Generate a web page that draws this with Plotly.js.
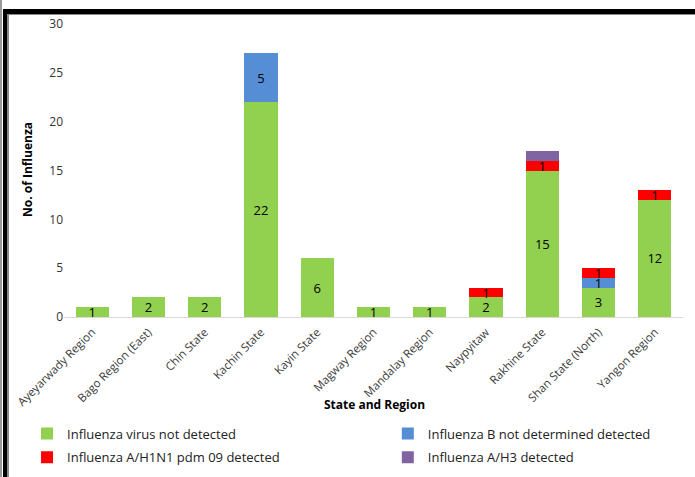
<!DOCTYPE html>
<html>
<head>
<meta charset="utf-8">
<script src="https://cdn.plot.ly/plotly-3.0.1.min.js"></script>
<style>
  html, body { margin: 0; padding: 0; background: #fff; }
  #wrap { position: relative; width: 695px; height: 477px; overflow: hidden; }
  #chart { position: absolute; left: 0; top: 0; width: 695px; height: 477px; }
  .ln { position: absolute; pointer-events: none; }
</style>
</head>
<body>
<div id="wrap">
  <div id="chart"></div>
  <div class="ln" style="left:0;top:0;width:2px;height:477px;background:#9a9a9a;"></div>
  <div class="ln" style="left:3px;top:9px;width:4px;height:468px;background:#000;"></div>
  <div class="ln" style="left:7px;top:14px;width:2px;height:463px;background:#8a8a8a;"></div>
  <div class="ln" style="left:3px;top:9px;width:692px;height:5px;background:#000;"></div>
  <div class="ln" style="left:7px;top:14px;width:688px;height:1px;background:#8a8a8a;"></div>
</div>
<script>
const categories = ["Ayeyarwady Region", "Bago Region (East)", "Chin State", "Kachin State", "Kayin State", "Magway Region", "Mandalay Region", "Naypyitaw", "Rakhine State", "Shan State (North)", "Yangon Region"];
const notDetected = [1, 2, 2, 22, 6, 1, 1, 2, 15, 3, 12];
const fluB = [0, 0, 0, 5, 0, 0, 0, 0, 0, 1, 0];
const h1n1 = [0, 0, 0, 0, 0, 0, 0, 1, 1, 1, 1];
const h3 = [0, 0, 0, 0, 0, 0, 0, 0, 1, 0, 0];
const seriesNames = ["Influenza virus not detected", "Influenza B not determined detected", "Influenza A/H1N1 pdm 09 detected", "Influenza A/H3 detected"];
const colors = ["#92D050", "#558ED5", "#FF0000", "#8064A2"];
const showLabels = [true, true, true, false];
const legendColumn = ["legend", "legend2", "legend", "legend2"];
const xTitle = "State and Region";
const yTitle = "No. of Influenza";

const FONT = "Open Sans, Liberation Sans, sans-serif";
const series = [notDetected, fluB, h1n1, h3];
const traces = series.map((vals, i) => ({
  type: "bar",
  name: seriesNames[i],
  legend: legendColumn[i],
  legendgroup: "g" + i,
  x: categories,
  y: vals,
  marker: { color: colors[i] },
  text: vals.map(v => (showLabels[i] && v > 0) ? String(v) : ""),
  textposition: "inside",
  insidetextanchor: "middle",
  constraintext: "none",
  textangle: 0,
  textfont: { family: FONT, size: 13, color: "#000" },
  hoverinfo: "x+y+name"
}));

const legendCommon = {
  orientation: "v",
  xref: "container",
  yref: "container",
  yanchor: "top",
  xanchor: "left",
  itemwidth: 30,
  tracegroupgap: 4,
  traceorder: "grouped",
  bgcolor: "rgba(0,0,0,0)",
  font: { family: FONT, size: 13, color: "#222" }
};

const layout = {
  width: 695,
  height: 477,
  barmode: "stack",
  bargap: 0.41,
  paper_bgcolor: "#fff",
  plot_bgcolor: "#fff",
  font: { family: FONT, size: 11, color: "#333" },
  margin: { l: 64, r: 12, t: 24, b: 160, autoexpand: false },
  showlegend: true,
  legend: Object.assign({}, legendCommon, { x: 0.0389, y: 0.1226 }),
  legend2: Object.assign({}, legendCommon, { x: 0.558, y: 0.1226 }),
  xaxis: {
    type: "category",
    tickangle: -45,
    automargin: false,
    showgrid: false,
    showline: true,
    linecolor: "#d9d9d9",
    linewidth: 1,
    ticks: "",
    ticklabelstandoff: 3,
    tickfont: { family: FONT, size: 11.5, color: "#3a3a3a" }
  },
  yaxis: {
    range: [0, 30],
    dtick: 5,
    automargin: false,
    showgrid: false,
    zeroline: false,
    showline: false,
    ticks: "",
    tickfont: { family: FONT, size: 12, color: "#333" }
  },
  annotations: [{
    text: "<b>" + xTitle + "</b>",
    xref: "paper", yref: "paper",
    x: 0.502, y: (317 - 404) / 293,
    xanchor: "center", yanchor: "middle",
    showarrow: false,
    font: { family: FONT, size: 12, color: "#000" }
  }, {
    text: "<b>" + yTitle + "</b>",
    xref: "paper", yref: "paper",
    x: (27 - 64) / 619, y: (317 - 170) / 293,
    xanchor: "center", yanchor: "middle",
    textangle: -90,
    showarrow: false,
    font: { family: FONT, size: 12, color: "#000" }
  }]
};

Plotly.newPlot("chart", traces, layout, { displayModeBar: false, staticPlot: true });
</script>
</body>
</html>
